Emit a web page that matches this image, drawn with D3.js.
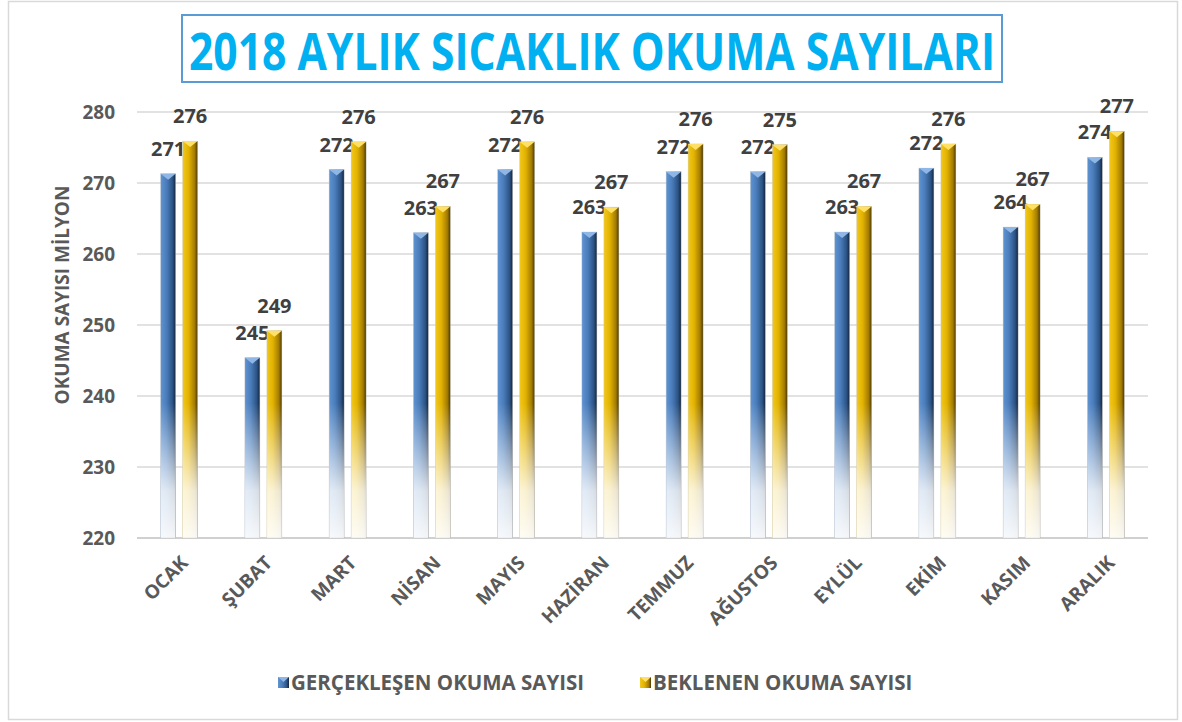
<!DOCTYPE html>
<html>
<head>
<meta charset="utf-8">
<script src="https://cdn.jsdelivr.net/npm/d3@7"></script>
<style>
  body { margin: 0; background: #fff; }
  text { font-family: "Open Sans", sans-serif; font-weight: bold; }
</style>
</head>
<body>
<div id="chart"></div>
<script>
const months = ['OCAK', 'ŞUBAT', 'MART', 'NİSAN', 'MAYIS', 'HAZİRAN', 'TEMMUZ', 'AĞUSTOS', 'EYLÜL', 'EKİM', 'KASIM', 'ARALIK'];
const actual = [271.3, 245.4, 271.9, 263.0, 271.9, 263.1, 271.6, 271.6, 263.1, 272.1, 263.8, 273.6];
const expected = [275.9, 249.2, 275.8, 266.7, 275.8, 266.6, 275.5, 275.4, 266.7, 275.5, 267.0, 277.3];
const seriesNames = ['GERÇEKLEŞEN OKUMA SAYISI', 'BEKLENEN OKUMA SAYISI'];
const yTicks = [220, 230, 240, 250, 260, 270, 280];

const width = 1182, height = 722;
const margin = {top: 112, bottom: 184, left: 137, right: 34};

const svg = d3.select('#chart').append('svg')
    .attr('width', width)
    .attr('height', height);

const defs = svg.append('defs');

// horizontal shading for the cylinders, light on the left, dark on the right
const shades = {
  blue: ['#5f93d2', '#4a7cba', '#2b5283', '#14243a'],
  gold: ['#f2c81c', '#e2b200', '#a27b00', '#4a3800'],
};
Object.entries(shades).forEach(([key, cols]) => {
  const g = defs.append('linearGradient').attr('id', 'h-' + key)
      .attr('x1', 0).attr('x2', 1).attr('y1', 0).attr('y2', 0);
  g.append('stop').attr('offset', '0%').attr('stop-color', cols[0]);
  g.append('stop').attr('offset', '40%').attr('stop-color', cols[1]);
  g.append('stop').attr('offset', '80%').attr('stop-color', cols[2]);
  g.append('stop').attr('offset', '100%').attr('stop-color', cols[3]);
});

const y = d3.scaleLinear()
    .domain([220, 280])
    .range([height - margin.bottom, margin.top]);

// fade towards white at the bottom
const fade = defs.append('linearGradient').attr('id', 'fade')
    .attr('gradientUnits', 'userSpaceOnUse')
    .attr('x1', 0).attr('x2', 0).attr('y1', y(239)).attr('y2', y(220));
fade.append('stop').attr('offset', '0%').attr('stop-color', '#fff').attr('stop-opacity', 0);
fade.append('stop').attr('offset', '65%').attr('stop-color', '#fff').attr('stop-opacity', 0.82);
fade.append('stop').attr('offset', '100%').attr('stop-color', '#fff').attr('stop-opacity', 0.95);

// outer frame
svg.append('rect')
    .attr('x', 8.5).attr('y', 1.5)
    .attr('width', 1169).attr('height', 718)
    .attr('fill', '#fff')
    .attr('stroke', '#d9d9d9')
    .attr('stroke-width', 1.5);

// title box
svg.append('rect')
    .attr('x', 182).attr('y', 15)
    .attr('width', 820).attr('height', 67)
    .attr('fill', '#fff')
    .attr('stroke', '#5b9bd5')
    .attr('stroke-width', 2);
svg.append('text')
    .attr('x', 592).attr('y', 70)
    .attr('text-anchor', 'middle')
    .attr('fill', '#00b0f0')
    .style('font-size', '52px')
    .attr('textLength', 806)
    .attr('lengthAdjust', 'spacingAndGlyphs')
    .text('2018 AYLIK SICAKLIK OKUMA SAYILARI');

const x = d3.scaleBand()
    .domain(months)
    .range([margin.left, width - margin.right]);

const xs = d3.scaleBand()
    .domain(['a', 'e'])
    .range([-18.5, 18.5])
    .paddingInner(0.318);

// gridlines
svg.append('g')
    .selectAll('line')
    .data(yTicks)
    .enter()
    .append('line')
    .attr('x1', margin.left)
    .attr('x2', width - margin.right)
    .attr('y1', d => y(d))
    .attr('y2', d => y(d))
    .attr('stroke', d => d === 220 ? '#d0d0d0' : '#d9d9d9')
    .attr('stroke-width', d => d === 220 ? 2 : 1.5);

const yAxis = d3.axisLeft(y).tickValues(yTicks).tickSize(0).tickPadding(22);
const yG = svg.append('g')
    .attr('transform', `translate(${margin.left},0)`)
    .call(yAxis);
yG.select('.domain').remove();
yG.selectAll('text')
    .attr('fill', '#595959')
    .style('font-size', '19px');

svg.append('text')
    .attr('transform', `translate(69,295) rotate(-90)`)
    .attr('text-anchor', 'middle')
    .attr('fill', '#595959')
    .style('font-size', '19px')
    .text('OKUMA SAYISI MİLYON');

const rows = months.map((m, i) => ({month: m, a: actual[i], e: expected[i]}));

const bars = [];
rows.forEach(r => {
  bars.push({month: r.month, key: 'a', val: r.a, col: 'blue'});
  bars.push({month: r.month, key: 'e', val: r.e, col: 'gold'});
});

const tipColor = {blue: '#8fb6e4', gold: '#ffe066'};
const tipH = 6;

const barG = svg.append('g');
const bar = barG.selectAll('g.bar')
    .data(bars)
    .enter()
    .append('g')
    .attr('class', 'bar')
    .attr('transform', d => `translate(${x(d.month) + x.bandwidth() / 2 + xs(d.key)},0)`);

bar.append('rect')
    .attr('x', 0)
    .attr('y', d => y(d.val))
    .attr('width', xs.bandwidth())
    .attr('height', d => y(220) - y(d.val))
    .attr('fill', d => `url(#h-${d.col})`);

bar.append('rect')
    .attr('x', 0)
    .attr('y', d => y(d.val))
    .attr('width', xs.bandwidth())
    .attr('height', d => y(220) - y(d.val))
    .attr('fill', 'url(#fade)')
    .attr('stroke', '#c8c8c8')
    .attr('stroke-width', 0.6)
    .attr('stroke-opacity', 0.6);

bar.append('path')
    .attr('d', d => {
      const t = y(d.val), w = xs.bandwidth();
      return `M0,${t} L${w},${t} L${w / 2},${t + tipH} Z`;
    })
    .attr('fill', d => tipColor[d.col]);

bar.append('text')
    .attr('x', xs.bandwidth() / 2)
    .attr('y', d => y(d.val) - 18)
    .attr('text-anchor', 'middle')
    .attr('fill', '#404040')
    .style('font-size', '20px')
    .text(d => Math.round(d.val));

// x labels
svg.append('g')
    .selectAll('text')
    .data(months)
    .enter()
    .append('text')
    .attr('transform', d => `translate(${x(d) + x.bandwidth() / 2 + 10},${y(220) + 26}) rotate(-45)`)
    .attr('text-anchor', 'end')
    .attr('fill', '#595959')
    .style('font-size', '19px')
    .text(d => d);

// legend
const legend = [
  {name: seriesNames[0], col: 'blue', x: 278},
  {name: seriesNames[1], col: 'gold', x: 640},
];
const lg = svg.append('g').selectAll('g')
    .data(legend)
    .enter()
    .append('g')
    .attr('transform', d => `translate(${d.x},677)`);
lg.append('rect')
    .attr('width', 11).attr('height', 11)
    .attr('fill', d => `url(#h-${d.col})`);
lg.append('path')
    .attr('d', 'M0,0 L11,0 L5.5,5 Z')
    .attr('fill', d => tipColor[d.col]);
lg.append('text')
    .attr('x', 13)
    .attr('y', 13)
    .attr('fill', '#595959')
    .style('font-size', '20.5px')
    .text(d => d.name);
</script>
</body>
</html>
